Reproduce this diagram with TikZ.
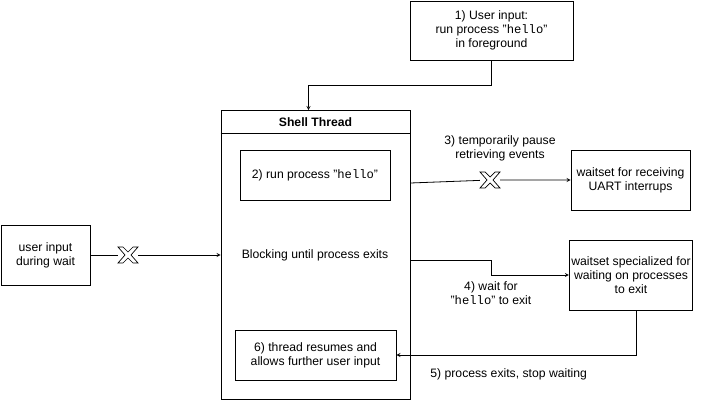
\documentclass[tikz,border=0pt]{standalone}
\usepackage{fontspec}
\setmainfont{Liberation Sans}
\setmonofont{Liberation Mono}
\usetikzlibrary{calc}
\tikzset{
	boxstyle/.style={rectangle,draw=black,fill=white,align=center,inner sep=2pt},
	textstyle/.style={rectangle,align=center,inner sep=1pt},
	crossstyle/.style={draw=black,fill=white,line width=0.7pt}
}
% hollow cross drawn round a named coordinate
\newcommand{\hollowcross}[1]{%
	\fill[white] ($(#1)+(-10,-9)$) rectangle ($(#1)+(10,9)$);
	\draw[crossstyle] ($(#1)+(-10,-8)$) -- ($(#1)+(-5,-8)$) -- ($(#1)+(0,-3)$) -- ($(#1)+(5,-8)$)
		-- ($(#1)+(10,-8)$) -- ($(#1)+(3,0)$) -- ($(#1)+(10,8)$) -- ($(#1)+(5,8)$)
		-- ($(#1)+(0,3)$) -- ($(#1)+(-5,8)$) -- ($(#1)+(-10,8)$) -- ($(#1)+(-3,0)$) -- cycle;
}
\begin{document}
\begin{tikzpicture}[x=1pt,y=-1pt,line width=0.8pt]
	\fontsize{12.2}{14}\selectfont
	\useasboundingbox (0,0) rectangle (701,401);
	% boxes
	\node[boxstyle,minimum width=163,minimum height=59] (input) at (491.5,30.5) {1) User input:\\run process "\texttt{hello}"\\in foreground};
	\node[boxstyle,minimum width=189,minimum height=289] (shell) at (315.5,255) {};
	\draw ($(shell.north west)+(0,23)$) -- ($(shell.north east)+(0,23)$);
	\node[textstyle] (title) at (315.5,122) {\bfseries Shell Thread};
	\node[boxstyle,minimum width=150,minimum height=50] (runproc) at (315,175) {2) run process "\texttt{hello}"};
	\node[textstyle] (blocking) at (315,255) {Blocking until process exits};
	\node[boxstyle,minimum width=161,minimum height=50] (resume) at (315.5,355) {6) thread resumes and\\allows further user input};
	\node[boxstyle,minimum width=89,minimum height=60] (user) at (45.5,255) {user input\\during wait};
	\node[boxstyle,minimum width=119,minimum height=60] (waitA) at (630.5,180) {waitset for receiving\\UART interrups};
	\node[boxstyle,minimum width=120,minimum height=70] (waitB) at (631,275) {waitset specialized for\\waiting on processes\\to exit};
	% connectors
	\draw[-stealth] (input.south) -- ++(0,25) -| ([xshift=-7pt]shell.north);
	\coordinate (pauseA) at ($(shell.east |- waitA.west)+(0,3)$);
	\coordinate (blockA) at (490,180);
	\draw[-stealth] (pauseA) -- (blockA) -- (waitA.west);
	\hollowcross{blockA}
	\node[textstyle] (pauselabel) at (500,148) {3) temporarily pause\\retrieving events};
	\coordinate (blockB) at (128,255);
	\draw[-stealth] (user.east) -- (shell.west |- user.east);
	\hollowcross{blockB}
	\coordinate (waitC) at ($(shell.east)+(0,5)$);
	\draw[-stealth] (waitC) -- ++(81,0) |- (waitB.west);
	\node[textstyle] (waitlabel) at (491,293) {4) wait for\\"\texttt{hello}" to exit};
	\draw[-stealth] ([xshift=5pt]waitB.south) |- (resume.east);
	\node[textstyle,anchor=west] (exitlabel) at (429,374) {5) process exits, stop waiting};
\end{tikzpicture}
\end{document}
